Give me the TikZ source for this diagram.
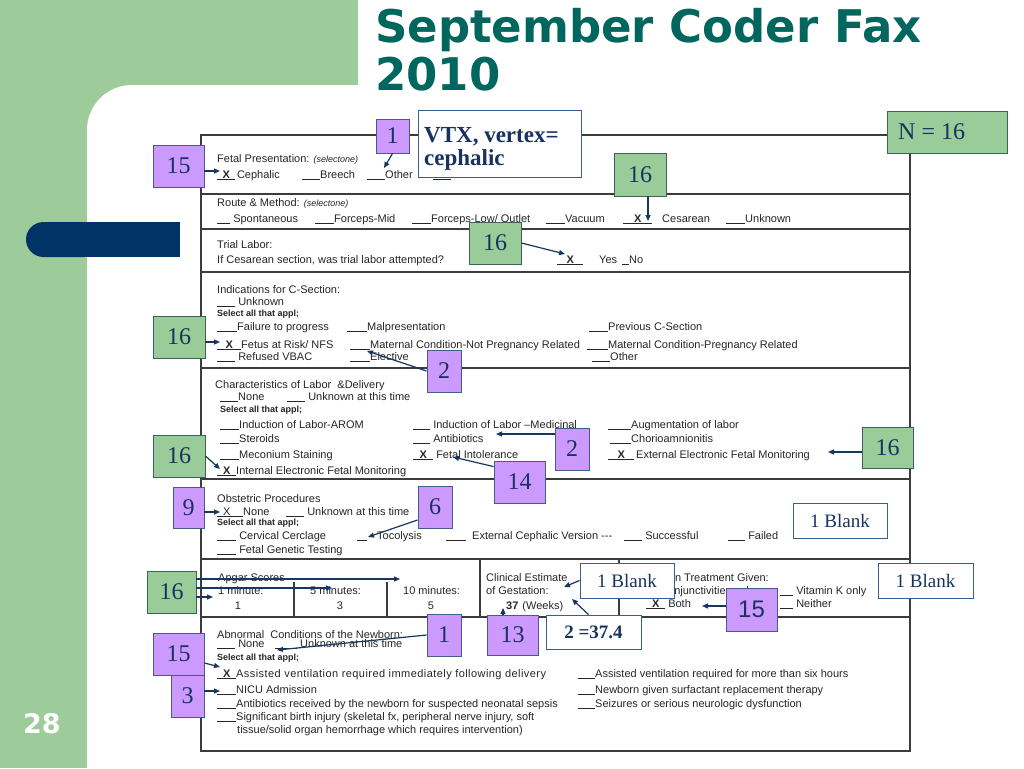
\documentclass[tikz,border=0pt]{standalone}
\usepackage{fontspec}
\usetikzlibrary{arrows.meta}
\newfontfamily\formfont{Liberation Sans}
\newfontfamily\boxfont{Liberation Serif}
\newfontfamily\titlefont{DejaVu Sans}
\definecolor{bggreen}{RGB}{157,204,154}
\definecolor{navybar}{RGB}{0,51,102}
\definecolor{titlecol}{RGB}{0,102,94}
\definecolor{pfill}{RGB}{204,153,255}
\definecolor{gfill}{RGB}{153,204,153}
\definecolor{pborder}{RGB}{70,90,140}
\definecolor{gborder}{RGB}{60,100,90}
\definecolor{bborder}{RGB}{55,96,146}
\definecolor{numcol}{RGB}{25,50,95}
\definecolor{arrcol}{RGB}{23,55,94}
\definecolor{formgray}{RGB}{60,60,60}
\newcommand\B[1]{\underline{\hbox to #1pt{}}}
\newcommand\BX[1]{\underline{\hbox to #1pt{\hss\textbf{X}\hss}}}
\tikzset{
 ft/.style={anchor=base west, inner sep=0pt, font=\formfont\fontsize{11}{12}\selectfont, text=black!85},
 sel/.style={ft, font=\formfont\bfseries\fontsize{9}{10}\selectfont},
 abox/.style={inner sep=0pt, line width=0.9pt, text=numcol, font=\boxfont\fontsize{24}{26}\selectfont},
 pbox/.style={abox, draw=pborder, fill=pfill},
 gbox/.style={abox, draw=gborder, fill=gfill},
 wbox/.style={abox, draw=bborder, fill=white, font=\boxfont\fontsize{19}{21}\selectfont},
 boxtxt/.style={inner sep=0pt, text=numcol},
 arr/.style={draw=arrcol, line width=1.2pt, -{Triangle[length=6pt,width=5pt]}},
 formline/.style={draw=formgray, line width=1.3pt},
}
\begin{document}
\begin{tikzpicture}[x=1pt,y=-1pt]
\useasboundingbox (0,0) rectangle (1024,768);
\clip (0,0) rectangle (1024,768);
% background
\fill[white] (0,0) rectangle (1024,768);
\fill[bggreen] (0,0) rectangle (358,140);
\fill[bggreen] (0,0) rectangle (87,768);
\fill[white, rounded corners=45pt] (87,85) rectangle (1100,900);
\fill[navybar, rounded corners=17.5pt] (26,222) rectangle (100,257);
\fill[navybar] (60,222) rectangle (180,257);
% title
\node[anchor=base west, inner sep=0pt, font=\titlefont\bfseries\fontsize{45}{48}\selectfont, text=titlecol] (title1) at (375,42) {September Coder Fax};
\node[anchor=base west, inner sep=0pt, font=\titlefont\bfseries\fontsize{45}{48}\selectfont, text=titlecol] (title2) at (375,90) {2010};
\node[anchor=base west, inner sep=0pt, font=\titlefont\bfseries\fontsize{27}{30}\selectfont, text=white] (pagenum) at (23,733) {28};
% form frame
\draw[formline] (201,135) rectangle (910,751);
\foreach \yy in {194,229,272,368,479,559,617} \draw[formline] (201,\yy) -- (910,\yy);
\draw[formline] (480,559) -- (480,617);
\draw[formline] (619,559) -- (619,617);
\draw[formline] (294,582) -- (294,617);
\draw[formline] (387,582) -- (387,617);
% row 1
\node[ft] (f1) at (217,162) {Fetal Presentation: {\itshape\fontsize{9}{10}\selectfont (selectone)}};
\node[ft] (f2) at (217,178) {\BX{18}\,Cephalic};
\node[ft] (f3) at (302,178) {\B{18}Breech};
\node[ft] (f4) at (367,178) {\B{18}Other};
\node[ft] (f5) at (433,178) {\B{18}Unknown};
% row 2
\node[ft] (r1) at (217,206) {Route \& Method: {\itshape\fontsize{9}{10}\selectfont (selectone)}};
\node[ft] (r2) at (217,222) {\B{13} Spontaneous};
\node[ft] (r3) at (315,222) {\B{19}Forceps-Mid};
\node[ft] (r4) at (412,222) {\B{19}Forceps-Low/ Outlet};
\node[ft] (r5) at (546,222) {\B{19}Vacuum};
\node[ft] (r6) at (623,222) {\BX{29}\hspace{10pt}Cesarean};
\node[ft] (r7) at (726,222) {\B{19}Unknown};
% row 3
\node[ft] (t1) at (217,248) {Trial Labor:};
\node[ft] (t2) at (217,263) {If Cesarean section, was trial labor attempted?};
\node[ft] (t3) at (557,263) {\BX{26}\hspace{16pt}Yes};
\node[ft] (t4) at (622,263) {\B{7}No};
% row 4
\node[ft] (i1) at (217,293) {Indications for C-Section:};
\node[ft] (i2) at (217,305) {\B{18} Unknown};
\node[sel] (i3) at (217,316) {Select all that appl;};
\node[ft] (i4) at (217,330) {\B{20}Failure to progress};
\node[ft] (i5) at (347,330) {\B{20}Malpresentation};
\node[ft] (i6) at (589,330) {\B{19}Previous C-Section};
\node[ft] (i7) at (217,348) {\BX{24}Fetus at Risk/ NFS};
\node[ft] (i8) at (350,348) {\B{20}Maternal Condition-Not Pregnancy Related};
\node[ft] (i9) at (587,348) {\B{21}Maternal Condition-Pregnancy Related};
\node[ft] (i10) at (217,360) {\B{18} Refused VBAC};
\node[ft] (i11) at (350,360) {\B{20}Elective};
\node[ft] (i12) at (592,360) {\B{18}Other};
% row 5
\node[ft] (c1) at (215,388) {Characteristics of Labor \ \&Delivery};
\node[ft] (c2) at (220,400) {\B{18}None};
\node[ft] (c3) at (287,400) {\B{18} Unknown at this time};
\node[sel] (c4) at (220,412) {Select all that appl;};
\node[ft] (c5) at (220,428) {\B{19}Induction of Labor-AROM};
\node[ft] (c6) at (413,428) {\B{17} Induction of Labor –Medicinal};
\node[ft] (c7) at (608,428) {\B{23}Augmentation of labor};
\node[ft] (c8) at (220,442) {\B{19}Steroids};
\node[ft] (c9) at (413,442) {\B{17} Antibiotics};
\node[ft] (c10) at (610,442) {\B{21}Chorioamnionitis};
\node[ft] (c11) at (220,458) {\B{19}Meconium Staining};
\node[ft] (c12) at (413,458) {\BX{20} Fetal Intolerance};
\node[ft] (c13) at (608,458) {\BX{26}\hspace{2pt}External Electronic Fetal Monitoring};
\node[ft] (c14) at (217,474) {\BX{19}Internal Electronic Fetal Monitoring};
% row 6
\node[ft] (o1) at (217,502) {Obstetric Procedures};
\node[ft] (o2) at (217,515) {\underline{\hbox to 26pt{\hspace{6pt}X\hss}}None};
\node[ft] (o3) at (286,515) {\B{18} Unknown at this time};
\node[sel] (o4) at (217,525) {Select all that appl;};
\node[ft] (o5) at (217,539) {\B{19} Cervical Cerclage};
\node[ft] (o6) at (357,539) {\B{10}\hspace{10pt}Tocolysis};
\node[ft] (o7) at (446,539) {\B{20}\hspace{6pt}External Cephalic Version ---};
\node[ft] (o8) at (624,539) {\B{18} Successful};
\node[ft] (o9) at (728,539) {\B{17} Failed};
\node[ft] (o10) at (217,553) {\B{19} Fetal Genetic Testing};
% row 7
\node[ft] (a1) at (218,581) {Apgar Scores};
\node[ft] (a2) at (218,594) {1 minute:};
\node[ft] (a3) at (310,594) {5 minutes:};
\node[ft] (a4) at (403,594) {10 minutes:};
\node[ft, anchor=base] (a5) at (238,609) {1};
\node[ft, anchor=base] (a6) at (340,609) {3};
\node[ft, anchor=base] (a7) at (431,609) {5};
\node[ft] (g1) at (486,581) {Clinical Estimate};
\node[ft] (g2) at (486,594) {of Gestation:};
\node[ft] (g3) at (506,609) {\textbf{37}\hspace{4pt}(Weeks)};
\node[ft, anchor=base east] (n1) at (769,581) {Newborn Treatment Given:};
\node[ft] (n2) at (660,594) {Conjunctivities only};
\node[ft] (n3) at (780,594) {\B{13} Vitamin K only};
\node[ft] (n4) at (646,607) {\BX{19} Both};
\node[ft] (n5) at (780,607) {\B{13} Neither};
% row 8
\node[ft] (b1) at (217,638) {Abnormal \ Conditions of the Newborn:};
\node[ft] (b2) at (217,647) {\B{18} None};
\node[ft] (b3) at (275,647) {\B{22}\hspace{3pt}Unknown at this time};
\node[sel] (b4) at (217,660) {Select all that appl;};
\node[ft] (b5) at (217,677) {\BX{19}\addfontfeature{LetterSpace=4}Assisted ventilation required immediately following delivery};
\node[ft] (b6) at (578,677) {\B{17}Assisted ventilation required for more than six hours};
\node[ft] (b7) at (217,693) {\B{19}NICU Admission};
\node[ft] (b8) at (578,693) {\B{17}Newborn given surfactant replacement therapy};
\node[ft] (b9) at (217,707) {\B{19}Antibiotics received by the newborn for suspected neonatal sepsis};
\node[ft] (b10) at (578,707) {\B{17}Seizures or serious neurologic dysfunction};
\node[ft] (b11) at (217,720) {\B{19}Significant birth injury (skeletal fx, peripheral nerve injury, soft};
\node[ft] (b12) at (237,733) {tissue/solid organ hemorrhage which requires intervention)};
% annotation boxes
\node[pbox, minimum width=33, minimum height=34] (p1a) at (392.5,136) {1};
\node[wbox, minimum width=163, minimum height=67] (vtx) at (499.5,143.5) {};
\node[boxtxt, anchor=base west, font=\boxfont\bfseries\fontsize{23}{23}\selectfont] (vtx1) at (424,142) {VTX, vertex=};
\node[boxtxt, anchor=base west, font=\boxfont\bfseries\fontsize{23}{23}\selectfont] (vtx2) at (424,165) {cephalic};
\node[gbox, minimum width=120, minimum height=42] (n16) at (947,132) {};
\node[boxtxt, anchor=west, font=\boxfont\fontsize{24}{26}\selectfont] (n16t) at (898,132) {N = 16};
\node[pbox, minimum width=51, minimum height=42] (p15a) at (178.5,166) {15};
\node[gbox, minimum width=52, minimum height=43] (g16a) at (640,174.5) {16};
\node[gbox, minimum width=52, minimum height=42] (g16b) at (495,243) {16};
\node[gbox, minimum width=52, minimum height=42] (g16c) at (179,337) {16};
\node[pbox, minimum width=34, minimum height=42] (p2a) at (444,371) {2};
\node[gbox, minimum width=52, minimum height=42] (g16d) at (179,456) {16};
\node[pbox, minimum width=34, minimum height=42] (p2b) at (572,449) {2};
\node[gbox, minimum width=51, minimum height=41] (g16e) at (887.5,447.5) {16};
\node[pbox, minimum width=51, minimum height=42] (p14) at (519.5,482) {14};
\node[pbox, minimum width=31, minimum height=41] (p9) at (188.5,507.5) {9};
\node[pbox, minimum width=34, minimum height=42] (p6) at (435,507) {6};
\node[wbox, minimum width=94, minimum height=35] (wb1) at (840,520.5) {1 Blank};
\node[gbox, minimum width=49, minimum height=42] (g16f) at (171.5,592) {16};
\node[wbox, minimum width=94, minimum height=35] (wb2) at (627,580.5) {1 Blank};
\node[wbox, minimum width=95, minimum height=35] (wb3) at (925.5,580.5) {1 Blank};
\node[pbox, minimum width=51, minimum height=43, font=\formfont\fontsize{24}{26}\selectfont] (p15s) at (751.5,609.5) {15};
\node[pbox, minimum width=34, minimum height=42] (p1b) at (444,635) {1};
\node[pbox, minimum width=51, minimum height=40] (p13) at (512.5,635) {13};
\node[wbox, minimum width=95, minimum height=34, font=\boxfont\bfseries\fontsize{19}{21}\selectfont] (wb4) at (593.5,632) {2 =37.4};
\node[pbox, minimum width=51, minimum height=42] (p15b) at (178.5,654) {15};
\node[pbox, minimum width=33, minimum height=42] (p3) at (187.5,696) {3};
% arrow targets
\coordinate (cA) at (220,171);
\coordinate (cB) at (384,168);
\coordinate (cC) at (648,221);
\coordinate (cD) at (565,254);
\coordinate (cE) at (220,342);
\coordinate (cF) at (367,351);
\coordinate (cG) at (496,434);
\coordinate (cH) at (828,452);
\coordinate (cI) at (220,469);
\coordinate (cJ) at (453,457);
\coordinate (cK) at (220,512);
\coordinate (cL) at (368,537);
\coordinate (cM1) at (400,579);
\coordinate (cM2) at (332,588);
\coordinate (cM3) at (213,597);
\coordinate (cN) at (564,587);
\coordinate (cO) at (572,599);
\coordinate (cP) at (503,608);
\coordinate (cQ) at (702,606);
\coordinate (cR) at (277,650);
\coordinate (cS) at (220,667);
\coordinate (cT) at (220,691);
% arrows
\draw[arr] (p15a.east |- cA) -- (cA);
\draw[arr] (p1a.south) -- (cB);
\draw[arr] (g16a.south -| cC) -- (cC);
\draw[arr] (g16b.east) -- (cD);
\draw[arr] (g16c.east |- cE) -- (cE);
\draw[arr] (p2a.west) -- (cF);
\draw[arr] (p2b.west |- cG) -- (cG);
\draw[arr] (g16e.west |- cH) -- (cH);
\draw[arr] (g16d.east) -- (cI);
\draw[arr] ([yshift=-6pt]p14.north west) -- (cJ);
\draw[arr] (p9.east |- cK) -- (cK);
\draw[arr] ([yshift=-13pt]p6.west) -- (cL);
\draw[arr] (g16f.east |- cM1) -- (cM1);
\draw[arr] (g16f.east |- cM2) -- (cM2);
\draw[arr] (g16f.east |- cM3) -- (cM3);
\draw[arr] (wb2.west) -- (cN);
\draw[arr] ([xshift=-5pt]wb4.north) -- (cO);
\draw[arr] (p13.north -| cP) -- (cP);
\draw[arr] (p15s.west |- cQ) -- (cQ);
\draw[arr] (p1b.west) -- (cR);
\draw[arr] ([yshift=-9pt]p15b.east) -- (cS);
\draw[arr] (p3.east |- cT) -- (cT);
\end{tikzpicture}
\end{document}
